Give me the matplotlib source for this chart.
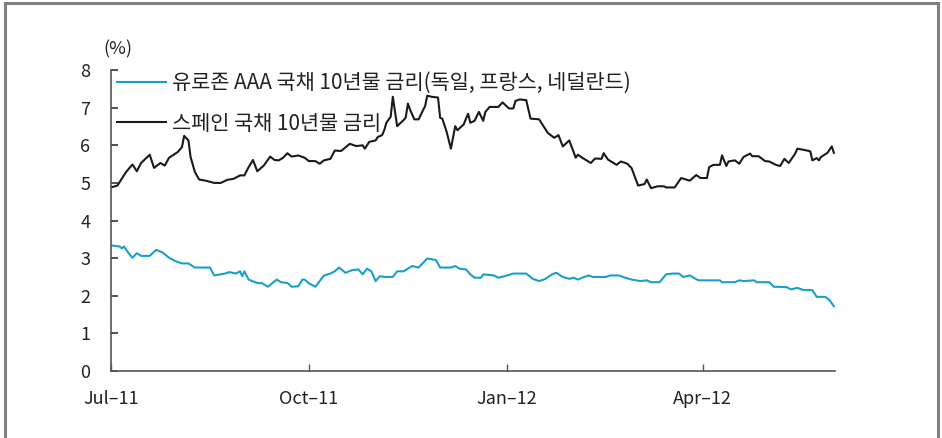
import matplotlib
matplotlib.use("Agg")
import matplotlib.pyplot as plt
from matplotlib.lines import Line2D
import pandas as pd

plt.rcParams['font.family'] = ['Noto Sans CJK KR', 'DejaVu Sans']

# days since 1 Jul 2011
start = pd.Timestamp("2011-07-01")

spain_day = [0, 3, 5, 7, 10, 12, 14, 18, 20, 23, 25, 27, 31, 33, 34, 36, 37, 39, 41, 44,
             48, 51, 54, 57, 60, 62, 64, 66, 68, 71, 74, 76, 78, 80, 82, 84, 87, 90, 92, 95,
             97, 99, 102, 104, 107, 111, 114, 117, 118, 120, 123, 124, 126, 127, 128, 130, 131, 133, 136, 137,
             138, 139, 141, 143, 145, 146, 147, 149, 152, 153, 154, 156, 158, 160, 161, 164, 165, 166, 167, 169,
             171, 173, 174, 176, 180, 182, 185, 187, 188, 190, 193, 195, 199, 200, 203, 206, 208, 210, 213, 216,
             217, 219, 223, 225, 228, 229, 231, 235, 237, 240, 242, 245, 248, 249, 251, 254, 257, 258, 262, 265,
             269, 272, 274, 277, 278, 280, 283, 284, 286, 287, 290, 292, 294, 297, 298, 301, 304, 306, 309, 311,
             313, 315, 318, 319, 322, 325, 326, 328, 329, 330, 333, 335, 336]
spain_val = [4.88, 4.93, 5.11, 5.29, 5.49, 5.31, 5.53, 5.75, 5.40, 5.53, 5.46, 5.67, 5.82, 5.95, 6.25, 6.13, 5.69, 5.29, 5.09, 5.06,
             5.00, 5.00, 5.08, 5.11, 5.20, 5.20, 5.42, 5.61, 5.31, 5.46, 5.70, 5.61, 5.60, 5.67, 5.79, 5.70, 5.73, 5.67, 5.58, 5.58,
             5.51, 5.60, 5.64, 5.86, 5.85, 6.04, 5.98, 6.00, 5.91, 6.09, 6.13, 6.22, 6.27, 6.40, 6.60, 6.76, 7.29, 6.51, 6.67, 6.74,
             7.11, 6.95, 6.69, 6.69, 6.93, 7.04, 7.32, 7.29, 7.27, 6.73, 6.71, 6.36, 5.91, 6.51, 6.40, 6.56, 6.71, 6.84, 6.60, 6.65,
             6.89, 6.65, 6.89, 7.02, 7.02, 7.14, 6.98, 6.98, 7.18, 7.22, 7.20, 6.71, 6.69, 6.60, 6.33, 6.20, 6.27, 5.97, 6.13, 5.67,
             5.75, 5.67, 5.53, 5.65, 5.64, 5.79, 5.62, 5.48, 5.57, 5.51, 5.39, 4.93, 4.97, 5.09, 4.86, 4.91, 4.91, 4.88, 4.88, 5.13,
             5.06, 5.21, 5.13, 5.13, 5.42, 5.48, 5.48, 5.73, 5.45, 5.57, 5.60, 5.51, 5.69, 5.78, 5.71, 5.71, 5.58, 5.57, 5.48, 5.45,
             5.64, 5.53, 5.78, 5.91, 5.88, 5.84, 5.60, 5.66, 5.60, 5.69, 5.80, 5.97, 5.80]

euro_day = [0, 4, 5, 6, 8, 10, 12, 14, 18, 21, 24, 27, 30, 33, 36, 39, 40, 46, 48, 53,
            55, 58, 60, 61, 62, 64, 67, 69, 70, 73, 77, 79, 82, 84, 87, 89, 90, 92, 95, 97,
            99, 102, 104, 106, 109, 112, 115, 117, 119, 121, 123, 125, 127, 131, 133, 136, 140, 143, 147, 151,
            153, 158, 160, 162, 165, 167, 169, 172, 173, 178, 180, 183, 187, 193, 196, 199, 202, 205, 207, 210,
            213, 215, 217, 219, 222, 224, 230, 232, 236, 239, 242, 246, 249, 251, 255, 258, 261, 264, 266, 269,
            273, 283, 284, 290, 292, 294, 299, 300, 306, 308, 314, 316, 319, 322, 326, 328, 332, 334, 336]
euro_val = [3.34, 3.31, 3.26, 3.31, 3.15, 3.01, 3.13, 3.06, 3.06, 3.22, 3.15, 3.01, 2.92, 2.86, 2.86, 2.75, 2.75, 2.75, 2.54, 2.59,
            2.63, 2.59, 2.65, 2.52, 2.65, 2.43, 2.36, 2.33, 2.34, 2.24, 2.43, 2.36, 2.34, 2.24, 2.25, 2.43, 2.43, 2.33, 2.24, 2.39,
            2.54, 2.59, 2.65, 2.75, 2.61, 2.68, 2.70, 2.57, 2.72, 2.65, 2.39, 2.52, 2.50, 2.50, 2.65, 2.65, 2.79, 2.75, 2.99, 2.95,
            2.75, 2.75, 2.79, 2.72, 2.70, 2.57, 2.48, 2.48, 2.57, 2.54, 2.48, 2.52, 2.59, 2.59, 2.45, 2.39, 2.45, 2.57, 2.61, 2.50,
            2.45, 2.48, 2.43, 2.48, 2.54, 2.50, 2.50, 2.54, 2.54, 2.48, 2.43, 2.39, 2.41, 2.36, 2.36, 2.57, 2.59, 2.59, 2.50, 2.54,
            2.41, 2.41, 2.36, 2.36, 2.41, 2.39, 2.41, 2.36, 2.36, 2.24, 2.23, 2.17, 2.21, 2.15, 2.15, 1.97, 1.97, 1.88, 1.72]

euro_label = "유로존 AAA 국채 10년물 금리(독일, 프랑스, 네덜란드)"
spain_label = "스페인 국채 10년물 금리"
tick_dates = ["2011-07-01", "2011-10-01", "2012-01-01", "2012-04-01"]
tick_labels = ["Jul–11", "Oct–11", "Jan–12", "Apr–12"]

euro_x = [start + pd.Timedelta(days=d) for d in euro_day]
spain_x = [start + pd.Timedelta(days=d) for d in spain_day]

fig = plt.figure(figsize=(9.42, 4.38), dpi=100)
ax = fig.add_axes([0.1178, 0.153, 0.7686, 0.687])

ax.plot(euro_x, euro_val, color="#1aa0c8", lw=1.5, label=euro_label)
ax.plot(spain_x, spain_val, color="#1a1a1a", lw=1.5, label=spain_label)

ax.set_ylim(0, 8)
ax.set_yticks(range(0, 9))
ax.set_xlim(start, pd.Timestamp("2012-06-01 12:00"))
ax.set_xticks([pd.Timestamp(t) for t in tick_dates])
ax.set_xticklabels(tick_labels)

for s in ["top", "right"]:
    ax.spines[s].set_visible(False)
for s in ["left", "bottom"]:
    ax.spines[s].set_color("#555555")
    ax.spines[s].set_linewidth(1.2)

ax.tick_params(axis="y", direction="in", length=5, width=1.2, color="#333333",
               labelsize=13, pad=15, labelcolor="#222222")
ax.tick_params(axis="x", direction="in", length=5, width=1.0, color="#555555",
               labelsize=13, pad=14, labelcolor="#222222")

ax.text(-0.01, 1.04, "(%)", transform=ax.transAxes, fontsize=13, ha="left",
        va="bottom", color="#222222")

ax.legend(loc="upper left", bbox_to_anchor=(0.008, 0.993), frameon=False,
          fontsize=15, handlelength=2.35, handletextpad=0.3, labelspacing=0.88,
          borderaxespad=0, borderpad=0.0, labelcolor="#222222")

# outer frame
frame_c = "#808080"
fig.add_artist(Line2D([0.0055, 0.0055], [0, 0.993], color=frame_c, lw=2.2, transform=fig.transFigure))
fig.add_artist(Line2D([0.0055, 0.9955], [0.993, 0.993], color=frame_c, lw=2.2, transform=fig.transFigure))
fig.add_artist(Line2D([0.9955, 0.9955], [0, 0.993], color=frame_c, lw=2.2, transform=fig.transFigure))

fig.savefig("out.png", dpi=100)
